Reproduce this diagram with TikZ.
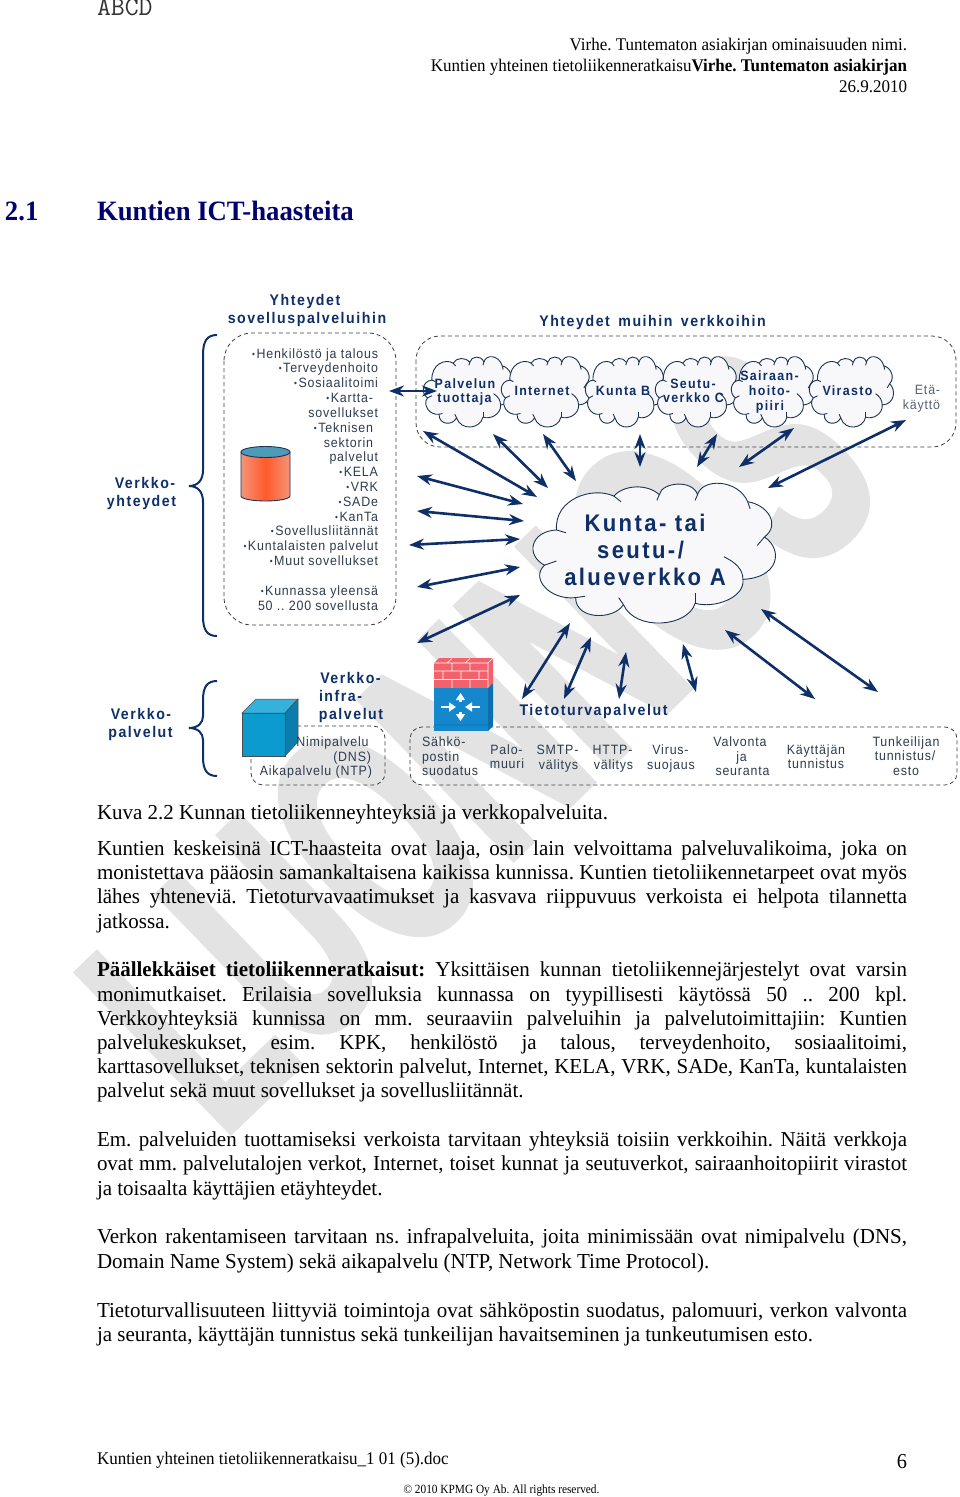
\documentclass[tikz,border=0pt]{standalone}
\usepackage{fontspec}
\usetikzlibrary{arrows.meta}
\AtBeginDocument{\frenchspacing}
\setmainfont[FakeStretch=0.985]{Liberation Serif}
\newfontfamily\hdf[FakeStretch=0.955]{Liberation Serif}
\newfontfamily\cpf[FakeStretch=0.907]{Liberation Serif}
\setmonofont[FakeStretch=1.0]{Latin Modern Mono}
\newfontfamily\wmf[FakeStretch=0.58,FakeBold=2]{Liberation Sans}
\newfontfamily\dgr[FakeStretch=0.92,LetterSpace=6]{Liberation Sans}
\newfontfamily\dgb[FakeStretch=0.92,LetterSpace=10]{Liberation Sans}
\newcommand{\bl}{\raisebox{0.8pt}{\fontsize{9}{9}\selectfont •}\kern1.5pt}
\definecolor{navyd}{HTML}{0E2F68}
\definecolor{slate}{HTML}{2E3C4E}
\definecolor{headblue}{HTML}{00006E}
\definecolor{wmgray}{HTML}{E3E3E3}
\definecolor{cloudf}{HTML}{F8F8FA}
\definecolor{cloudl}{HTML}{1E3354}
\definecolor{cylsid}{HTML}{F49478}
\definecolor{cylmid}{HTML}{FF5A2B}
\definecolor{cyltop}{HTML}{4E9BB9}
\definecolor{cubef}{HTML}{0B9BCF}
\definecolor{cubet}{HTML}{34B2DD}
\definecolor{cubes}{HTML}{0A7DAC}
\definecolor{brick}{HTML}{F2626C}
\definecolor{fwblue}{HTML}{1487CD}
\definecolor{fwside}{HTML}{0E70AA}
\definecolor{fwline}{HTML}{0C6EAF}
\tikzset{
  bodyl/.style={anchor=base west,inner sep=0,outer sep=0,font=\fontsize{21.3}{24}\selectfont},
  hdrl/.style={anchor=base east,inner sep=0,outer sep=0,font=\hdf\fontsize{17.8}{20}\selectfont},
  tit/.style={anchor=base,inner sep=0,outer sep=0,text=navyd,font=\dgb\bfseries\fontsize{15.4}{18}\selectfont},
  cl/.style={anchor=base,inner sep=0,outer sep=0,text=navyd,font=\dgb\bfseries\fontsize{13.5}{16}\selectfont},
  big/.style={anchor=base,inner sep=0,outer sep=0,text=navyd,font=\dgb\bfseries\fontsize{24}{28}\selectfont},
  lab/.style={anchor=base,inner sep=0,outer sep=0,text=slate,font=\dgr\fontsize{13.5}{16}\selectfont},
  labr/.style={lab,anchor=base east},
  dbox/.style={draw=black!75,line width=0.8pt,dash pattern=on 4pt off 3pt},
  brace/.style={draw=navyd,line width=2pt},
  biarrow/.style={draw=navyd,line width=2.6pt,{Stealth[length=15pt,width=11pt]}-{Stealth[length=15pt,width=11pt]}},
  cloudline/.style={draw=cloudl,line width=0.9pt,fill=cloudf,line join=round},
  cloudhook/.style={draw=cloudl,line width=0.9pt},
  wharrow/.style={draw=white,line width=2.6pt,-{Triangle[length=7pt,width=9pt]}},
}
\newcommand{\dgcloud}[4]{%
  \begin{scope}[shift={(#1,#2)},xscale={(#3-#1)/100},yscale={(#4-#2)/100}]
    \draw[cloudline] (9,34) .. controls (8,12) and (24,3) .. (33,10)
      .. controls (37,2) and (47,1) .. (52,9)
      .. controls (53,0) and (66,-2) .. (68,9)
      .. controls (70,-3) and (85,-2) .. (89,14)
      .. controls (97,16) and (103,30) .. (96,39)
      .. controls (104,48) and (102,68) .. (87,69)
      .. controls (88,82) and (75,90) .. (67,86)
      .. controls (64,103) and (42,106) .. (37,87)
      .. controls (33,98) and (17,98) .. (17,82)
      .. controls (6,84) and (-2,68) .. (4,59)
      .. controls (-4,52) and (-2,35) .. (9,34) -- cycle;
    \draw[cloudhook] (33,10) -- (36,14);
    \draw[cloudhook] (52,9) -- (51,13);
    \draw[cloudhook] (68,9) -- (67,13);
    \draw[cloudhook] (89,14) -- (90,19);
    \draw[cloudhook] (96,39) -- (93,45);
    \draw[cloudhook] (87,69) .. controls (87,62) and (84,57) .. (79,53);
    \draw[cloudhook] (67,86) -- (67,79);
    \draw[cloudhook] (37,87) -- (35,82);
    \draw[cloudhook] (17,82) -- (21,81);
    \draw[cloudhook] (4,59) -- (9,56);
    \draw[cloudhook] (9,34) -- (13,36);
  \end{scope}}
\begin{document}
\begin{tikzpicture}[x=1pt,y=-1pt]
\useasboundingbox (0,0) rectangle (960,1497);
\fill[white] (0,0) rectangle (960,1497);
% watermark
\node[anchor=base west,inner sep=0,outer sep=0,rotate=44,text=wmgray,font=\wmf\bfseries\fontsize{321}{321}\selectfont] (wm) at (222,1140) {LUONNOS};
% page head
\node[anchor=base west,inner sep=0,outer sep=0,font=\ttfamily\fontsize{27}{28}\selectfont,text=black!80] (abcd) at (97,15) {ABCD};
\node[hdrl] (h1) at (907,50) {Virhe. Tuntematon asiakirjan ominaisuuden nimi.};
\node[hdrl] (h2) at (907,71) {Kuntien yhteinen tietoliikenneratkaisu\textbf{Virhe. Tuntematon asiakirjan}};
\node[hdrl] (h3) at (907,92) {26.9.2010};
\node[anchor=base west,inner sep=0,outer sep=0,text=headblue,font=\hdf\bfseries\fontsize{28}{30}\selectfont] (s1) at (5,220) {2.1};
\node[anchor=base west,inner sep=0,outer sep=0,text=headblue,font=\hdf\bfseries\fontsize{28}{30}\selectfont] (s2) at (97,220) {Kuntien ICT-haasteita};
% titles
\node[tit] (t1) at (305,305) {Yhteydet};
\node[tit] (t2) at (307,323) {sovelluspalveluihin};
\node[tit] (t3) at (652.5,326) {Yhteydet\kern3pt\ muihin\kern3pt\ verkkoihin};
\node[tit] (t4) at (145,488) {Verkko-};
\node[tit] (t5) at (141.5,506) {yhteydet};
\node[tit] (t6) at (141,719) {Verkko-};
\node[tit] (t7) at (140.5,737) {palvelut};
\node[tit] (t8) at (350.5,683) {Verkko-};
\node[tit,anchor=base west] (t9) at (319,701) {infra-};
\node[tit] (t10) at (351,719) {palvelut};
\node[tit] (t11) at (593.5,715) {Tietoturvapalvelut};
% braces
\coordinate (b1t) at (217,335); \coordinate (b1m) at (189,486); \coordinate (b1b) at (217,636);
\coordinate (b2t) at (217,681); \coordinate (b2m) at (189,728); \coordinate (b2b) at (217,776);
\draw[brace] (b1t) .. controls (207,335) and (203,341) .. (203,355) -- (203,470) .. controls (203,480) and (198,486) .. (b1m) .. controls (198,486) and (203,492) .. (203,502) -- (203,616) .. controls (203,630) and (207,636) .. (b1b);
\draw[brace] (b2t) .. controls (207,681) and (203,687) .. (203,700) -- (203,716) .. controls (203,723) and (198,728) .. (b2m) .. controls (198,728) and (203,733) .. (203,740) -- (203,757) .. controls (203,770) and (207,776) .. (b2b);
% dashed boxes
\draw[dbox,rounded corners=28pt] (224,333) rectangle (396,625);
\draw[dbox,rounded corners=24pt] (416,336) rectangle (956,447);
\draw[dbox,rounded corners=12pt] (251,726) rectangle (385,785);
\draw[dbox,rounded corners=12pt] (410,727) rectangle (957,785);
% application list
\node[labr] (a1) at (378,358) {\bl Henkilöstö ja talous};
\node[labr] (a2) at (378,372.5) {\bl Terveydenhoito};
\node[labr] (a3) at (378,387.5) {\bl Sosiaalitoimi};
\node[labr] (a4) at (373,402) {\bl Kartta-};
\node[labr] (a5) at (378,417) {sovellukset};
\node[labr] (a6) at (373,432) {\bl Teknisen};
\node[labr] (a7) at (373,447) {sektorin};
\node[labr] (a8) at (378,461.5) {palvelut};
\node[labr] (a9) at (378,476) {\bl KELA};
\node[labr] (a10) at (378,491) {\bl VRK};
\node[labr] (a11) at (378,506) {\bl SADe};
\node[labr] (a12) at (378,521) {\bl KanTa};
\node[labr] (a13) at (378,535.5) {\bl Sovellusliitännät};
\node[labr] (a14) at (378,550.5) {\bl Kuntalaisten palvelut};
\node[labr] (a15) at (378,565.5) {\bl Muut sovellukset};
\node[labr] (a16) at (378,595) {\bl Kunnassa yleensä};
\node[labr] (a17) at (378,610) {50 .. 200 sovellusta};
% cylinder
\shade[left color=cylsid,right color=cylsid,middle color=cylmid] (241,452) -- (241,496) arc[start angle=180,end angle=360,x radius=24.5pt,y radius=5pt] -- (290,452) -- cycle;
\draw[cloudl,line width=0.9pt] (241,452) -- (241,496) arc[start angle=180,end angle=360,x radius=24.5pt,y radius=5pt] -- (290,452);
\draw[cloudl,line width=0.9pt,fill=cyltop] (265.5,452) ellipse[x radius=24.5pt,y radius=5.5pt];
% small clouds
\dgcloud{424}{356}{512}{427}
\dgcloud{502}{356}{590}{427}
\dgcloud{586}{356}{664}{427}
\dgcloud{656}{356}{737}{427}
\dgcloud{732}{356}{814}{427}
\dgcloud{810}{356}{893}{427}
\dgcloud{535}{482}{774}{623}
\node[cl] (c1a) at (465,388) {Palvelun};
\node[cl] (c1b) at (464.5,402) {tuottaja};
\node[cl] (c2) at (542,395) {Internet};
\node[cl] (c3) at (623,395) {Kunta B};
\node[cl] (c4a) at (693,388) {Seutu-};
\node[cl] (c4b) at (693.5,402) {verkko C};
\node[cl] (c5a) at (769.5,380) {Sairaan-};
\node[cl] (c5b) at (769.5,395) {hoito-};
\node[cl] (c5c) at (770,410) {piiri};
\node[cl] (c6) at (847.5,395) {Virasto};
\node[lab,text=slate!80] (c7a) at (927.5,394) {Etä-};
\node[lab,text=slate!80] (c7b) at (921.5,409) {käyttö};
\node[big] (k1) at (645,531) {Kunta- tai};
\node[big] (k2) at (640.5,558) {seutu-/};
\node[big] (k3) at (645,585) {alueverkko A};
% arrows
\coordinate (a0a) at (389,391); \coordinate (a0b) at (437,391);
\coordinate (r1a) at (423,431); \coordinate (r1b) at (537,497);
\coordinate (r2a) at (493,434); \coordinate (r2b) at (548,488);
\coordinate (r3a) at (543,434); \coordinate (r3b) at (576,481);
\coordinate (r4a) at (640,434); \coordinate (r4b) at (640,467);
\coordinate (r5a) at (717,434); \coordinate (r5b) at (697,467);
\coordinate (r6a) at (794,428); \coordinate (r6b) at (739,467);
\coordinate (r7a) at (906,420); \coordinate (r7b) at (768,488);
\coordinate (r8a) at (417,476); \coordinate (r8b) at (523,504);
\coordinate (r9a) at (417,511); \coordinate (r9b) at (524,521);
\coordinate (r10a) at (409,545); \coordinate (r10b) at (520,539);
\coordinate (r11a) at (417,587); \coordinate (r11b) at (520,567);
\coordinate (r12a) at (417,643); \coordinate (r12b) at (520,595);
\coordinate (r13a) at (570,623); \coordinate (r13b) at (522,699);
\coordinate (r14a) at (591,637); \coordinate (r14b) at (564,699);
\coordinate (r15a) at (626,652); \coordinate (r15b) at (619,699);
\coordinate (r16a) at (683,644); \coordinate (r16b) at (696,692);
\coordinate (r17a) at (725,630); \coordinate (r17b) at (815,699);
\coordinate (r18a) at (761,609); \coordinate (r18b) at (878,692);
\foreach \n in {a0,r1,r2,r3,r4,r5,r6,r7,r8,r9,r10,r11,r12,r13,r14,r15,r16,r17,r18}
  \draw[biarrow] (\n a) -- (\n b);
% cube
\draw[black!70,line width=0.5pt,fill=cubef] (242,713) rectangle (285,756);
\draw[black!70,line width=0.5pt,fill=cubet] (242,713) -- (256,699) -- (298,699) -- (285,713) -- cycle;
\draw[black!70,line width=0.5pt,fill=cubes] (285,713) -- (298,699) -- (298,742) -- (285,756) -- cycle;
\node[lab] (n1) at (332.5,746) {Nimipalvelu};
\node[labr] (n2) at (371,761) {(DNS)};
\node[labr] (n3) at (372,775) {Aikapalvelu (NTP)};
% firewall
\fill[brick] (434,663) -- (439,658) -- (493,658) -- (493,683) -- (488,688) -- (434,688) -- cycle;
\draw[white,line width=0.6pt] (434,663) -- (488,663) -- (493,658) (488,663) -- (488,688)
  (434,671) -- (488,671) (434,679.5) -- (488,679.5)
  (452,663) -- (452,671) (470,663) -- (470,671)
  (443,671) -- (443,679.5) (461,671) -- (461,679.5) (479,671) -- (479,679.5)
  (452,679.5) -- (452,688) (470,679.5) -- (470,688)
  (452,658.5) -- (447,663) (470,658.5) -- (465,663);
\fill[fwblue] (434,688) rectangle (488,731);
\fill[fwside] (488,688) -- (493,683) -- (493,726) -- (488,731) -- cycle;
\draw[fwline,line width=0.6pt] (434,725) -- (488,725) -- (493,720);
\coordinate (f1) at (441,707); \coordinate (f1e) at (456,707);
\coordinate (f2) at (480,707); \coordinate (f2e) at (465,707);
\coordinate (f3) at (460.5,702); \coordinate (f3e) at (460.5,693);
\coordinate (f4) at (460.5,712); \coordinate (f4e) at (460.5,721);
\draw[wharrow] (f1) -- (f1e);
\draw[wharrow] (f2) -- (f2e);
\draw[wharrow] (f3) -- (f3e);
\draw[wharrow] (f4) -- (f4e);
% security labels
\node[lab,anchor=base west] (s11) at (422,746) {Sähkö-};
\node[lab,anchor=base west] (s12) at (422,761) {postin};
\node[lab,anchor=base west] (s13) at (422,775) {suodatus};
\node[lab] (s21) at (506.5,754) {Palo-};
\node[lab] (s22) at (507,768) {muuri};
\node[lab] (s31) at (557.5,754) {SMTP-};
\node[lab] (s32) at (558.5,769) {välitys};
\node[lab] (s41) at (612.5,754) {HTTP-};
\node[lab] (s42) at (613.5,769) {välitys};
\node[lab] (s51) at (670.5,754) {Virus-};
\node[lab] (s52) at (671,769) {suojaus};
\node[lab] (s61) at (740,746) {Valvonta};
\node[lab] (s62) at (741.5,761) {ja};
\node[lab] (s63) at (742.5,775) {seuranta};
\node[lab] (s71) at (816,754) {Käyttäjän};
\node[lab] (s72) at (816,768) {tunnistus};
\node[lab] (s81) at (906,746) {Tunkeilijan};
\node[lab] (s82) at (905,760) {tunnistus/};
\node[lab] (s83) at (906,775) {esto};
% body
\node[bodyl] (b0) at (97,819) {Kuva 2.2 Kunnan tietoliikenneyhteyksiä ja verkkopalveluita.};
\node[bodyl] (b1) at (97,855) {\makebox[810pt][s]{Kuntien keskeisinä ICT-haasteita ovat laaja, osin lain velvoittama palveluvalikoima, joka on}};
\node[bodyl] (b2) at (97,879.5) {\makebox[810pt][s]{monistettava pääosin samankaltaisena kaikissa kunnissa. Kuntien tietoliikennetarpeet ovat myös}};
\node[bodyl] (b3) at (97,903.5) {\makebox[810pt][s]{lähes yhteneviä. Tietoturvavaatimukset ja kasvava riippuvuus verkoista ei helpota tilannetta}};
\node[bodyl] (b4) at (97,928) {jatkossa.};
\node[bodyl] (b5) at (97,976) {\makebox[810pt][s]{\textbf{Päällekkäiset tietoliikenneratkaisut:} Yksittäisen kunnan tietoliikennejärjestelyt ovat varsin}};
\node[bodyl] (b6) at (97,1001) {\makebox[810pt][s]{monimutkaiset. Erilaisia sovelluksia kunnassa on tyypillisesti käytössä 50 .. 200 kpl.}};
\node[bodyl] (b7) at (97,1025.5) {\makebox[810pt][s]{Verkkoyhteyksiä kunnissa on mm. seuraaviin palveluihin ja palvelutoimittajiin: Kuntien}};
\node[bodyl] (b8) at (97,1049.5) {\makebox[810pt][s]{palvelukeskukset, esim. KPK, henkilöstö ja talous, terveydenhoito, sosiaalitoimi,}};
\node[bodyl] (b9) at (97,1073.5) {\makebox[810pt][s]{karttasovellukset, teknisen sektorin palvelut, Internet, KELA, VRK, SADe, KanTa, kuntalaisten}};
\node[bodyl] (b10) at (97,1097) {palvelut sekä muut sovellukset ja sovellusliitännät.};
\node[bodyl] (b11) at (97,1146.5) {\makebox[810pt][s]{Em. palveluiden tuottamiseksi verkoista tarvitaan yhteyksiä toisiin verkkoihin. Näitä verkkoja}};
\node[bodyl] (b12) at (97,1170.5) {\makebox[810pt][s]{ovat mm. palvelutalojen verkot, Internet, toiset kunnat ja seutuverkot, sairaanhoitopiirit virastot}};
\node[bodyl] (b13) at (97,1195) {ja toisaalta käyttäjien etäyhteydet.};
\node[bodyl] (b14) at (97,1243.5) {\makebox[810pt][s]{Verkon rakentamiseen tarvitaan ns. infrapalveluita, joita minimissään ovat nimipalvelu (DNS,}};
\node[bodyl] (b15) at (97,1268) {Domain Name System) sekä aikapalvelu (NTP, Network Time Protocol).};
\node[bodyl] (b16) at (97,1317) {\makebox[810pt][s]{Tietoturvallisuuteen liittyviä toimintoja ovat sähköpostin suodatus, palomuuri, verkon valvonta}};
\node[bodyl] (b17) at (97,1341) {ja seuranta, käyttäjän tunnistus sekä tunkeilijan havaitseminen ja tunkeutumisen esto.};
% footer
\node[anchor=base west,inner sep=0,outer sep=0,font=\hdf\fontsize{17.8}{20}\selectfont] (f0) at (97,1464) {Kuntien yhteinen tietoliikenneratkaisu\_1 01 (5).doc};
\node[anchor=base east,inner sep=0,outer sep=0,font=\hdf\fontsize{21.3}{24}\selectfont] (pg) at (907,1468) {6};
\node[anchor=base,inner sep=0,outer sep=0,font=\cpf\fontsize{12.5}{14}\selectfont] (cp) at (501.5,1493) {© 2010 KPMG Oy Ab. All rights reserved.};
\end{tikzpicture}
\end{document}
